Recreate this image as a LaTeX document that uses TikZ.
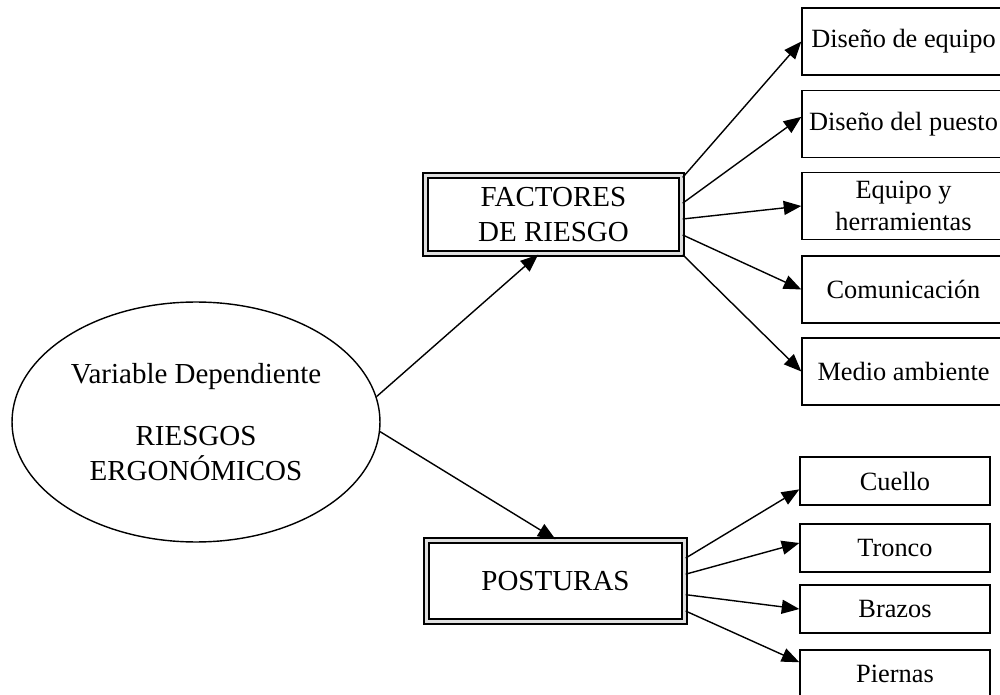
\documentclass[tikz,border=0pt]{standalone}
\usepackage{fontspec}
\setmainfont{Liberation Serif}
\usepackage{tikz}
\usetikzlibrary{shapes.geometric, arrows.meta, positioning}
\tikzstyle{depvar}    = [ellipse, draw=black, line width=0.8pt, minimum width=7.36cm, minimum height=4.8cm, inner sep=0pt, text centered, font=\fontsize{16.5}{19.5}\selectfont]
\tikzstyle{mainbox}   = [rectangle, draw=black, line width=1.1pt, double=gray!25, double distance=1.6pt, minimum width=5.13cm, minimum height=1.57cm, text centered, font=\fontsize{16.5}{19.8}\selectfont]
\tikzstyle{itembig}   = [rectangle, draw=black, line width=0.8pt, minimum width=4.06cm, minimum height=1.34cm, text centered, font=\fontsize{15}{18}\selectfont]
\tikzstyle{itemsmall} = [rectangle, draw=black, line width=0.8pt, minimum width=3.8cm, minimum height=0.96cm, text centered, font=\fontsize{15}{18}\selectfont]
\tikzstyle{arrow}     = [line width=0.8pt, -{Triangle[length=10pt, width=8pt]}]
\tikzset{every node/.style={align=center}}
\begin{document}
\begin{tikzpicture}[x=0.02cm, y=-0.02cm]
    \clip (0,0) rectangle (1000,695);

    \node (var) [depvar] at (196,422) {Variable Dependiente\\[16pt]RIESGOS\\ERGONÓMICOS};

    \node (fac) [mainbox] at (553.5,214.5) {FACTORES\\DE RIESGO};
    \node (pos) [mainbox, minimum width=5.17cm, minimum height=1.63cm] at (555.5,581) {POSTURAS};

    \node (equ) [itembig] at (903.5,41.5)  {Diseño de equipo};
    \node (pue) [itembig] at (903.5,124)   {Diseño del puesto};
    \node (her) [itembig] at (903.5,206)   {Equipo y\\herramientas};
    \node (com) [itembig] at (903.5,289.5) {Comunicación};
    \node (amb) [itembig] at (903.5,371.5) {Medio ambiente};

    \node (cue) [itemsmall] at (895,481) {Cuello};
    \node (tro) [itemsmall] at (895,548) {Tronco};
    \node (bra) [itemsmall] at (895,609) {Brazos};
    \node (pie) [itemsmall] at (895,674) {Piernas};

    \draw [arrow] (var.8) -- (fac.249);
    \draw [arrow] (var.-3) -- (pos.north);

    \draw [arrow] (fac.16) -- (equ.west);
    \draw [arrow] (fac.5) -- (pue.176);
    \draw [arrow] (fac.-2) -- (her.west);
    \draw [arrow] (fac.-9) -- (com.west);
    \draw [arrow] (fac.south east) -- (amb.west);

    \draw [arrow] (pos.10) -- (cue.185);
    \draw [arrow] (pos.3) -- (tro.177);
    \draw [arrow] (pos.-6) -- (bra.west);
    \draw [arrow] (pos.-13) -- (pie.173);
\end{tikzpicture}
\end{document}
